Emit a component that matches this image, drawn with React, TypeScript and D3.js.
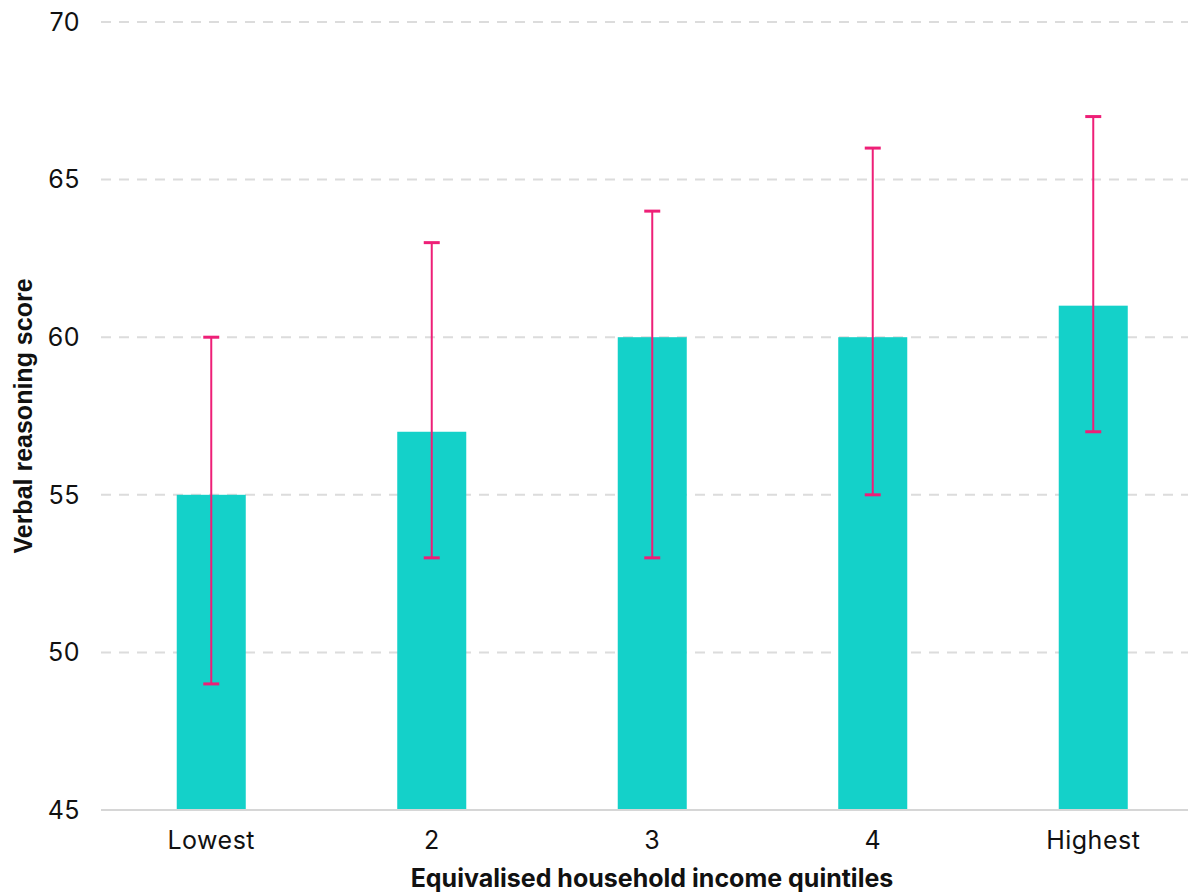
import React from "react";
import * as d3 from "d3";

const categories = ["Lowest", "2", "3", "4", "Highest"];
const scores = [55, 57, 60, 60, 61];
const lower = [49, 53, 53, 55, 57];
const upper = [60, 63, 64, 66, 67];
const yTicks = [45, 50, 55, 60, 65, 70];

const W = 1188;
const H = 893;
const m = { left: 101, right: 0, top: 22, bottom: 83 };

export default function App() {
  const x = d3
    .scaleBand<string>()
    .domain(categories)
    .range([m.left, m.left + 5 * 220.5])
    .paddingInner(0.687)
    .paddingOuter(0.3435);
  const y = d3.scaleLinear().domain([45, 70]).range([H - m.bottom, m.top]);
  const font = "Inter, 'Noto Sans', sans-serif";
  return (
    <svg width={W} height={H} style={{ position: "absolute", left: 0, top: 0 }}>
      {yTicks.slice(1).map((t) => (
        <line key={t} x1={m.left} x2={W} y1={y(t)} y2={y(t)} stroke="#dcdcdc" strokeWidth={2} strokeDasharray="10 8" />
      ))}
      {yTicks.map((t) => (
        <text key={t} x={80} y={y(t)} dy="0.35em" textAnchor="end" fontFamily={font} fontSize={25} fill="#111" letterSpacing={0.5}>
          {t}
        </text>
      ))}
      {categories.map((c, i) => (
        <rect key={c} x={x(c)} y={y(scores[i])} width={x.bandwidth()} height={y(45) - y(scores[i])} fill="#14d1c9" />
      ))}
      <line x1={m.left} x2={W} y1={y(45)} y2={y(45)} stroke="#d6d6d6" strokeWidth={2} />
      {categories.map((c, i) => {
        const cx = (x(c) as number) + x.bandwidth() / 2;
        return (
          <g key={c} stroke="#ee1f77">
            <line x1={cx} x2={cx} y1={y(upper[i])} y2={y(lower[i])} strokeWidth={2} />
            <line x1={cx - 8} x2={cx + 8} y1={y(upper[i])} y2={y(upper[i])} strokeWidth={3} />
            <line x1={cx - 8} x2={cx + 8} y1={y(lower[i])} y2={y(lower[i])} strokeWidth={3} />
          </g>
        );
      })}
      {categories.map((c) => (
        <text key={c} x={(x(c) as number) + x.bandwidth() / 2} y={849} textAnchor="middle" fontFamily={font} fontSize={25} fill="#111" letterSpacing={0.5}>
          {c}
        </text>
      ))}
      <text x={652} y={887} textAnchor="middle" fontFamily={font} fontSize={25} fontWeight="bold" fill="#111">
        Equivalised household income quintiles
      </text>
      <text transform={`translate(32,416) rotate(-90)`} textAnchor="middle" fontFamily="'Liberation Sans', Arial, sans-serif" fontSize={25} fontWeight="bold" fill="#111">
        Verbal reasoning score
      </text>
    </svg>
  );
}
